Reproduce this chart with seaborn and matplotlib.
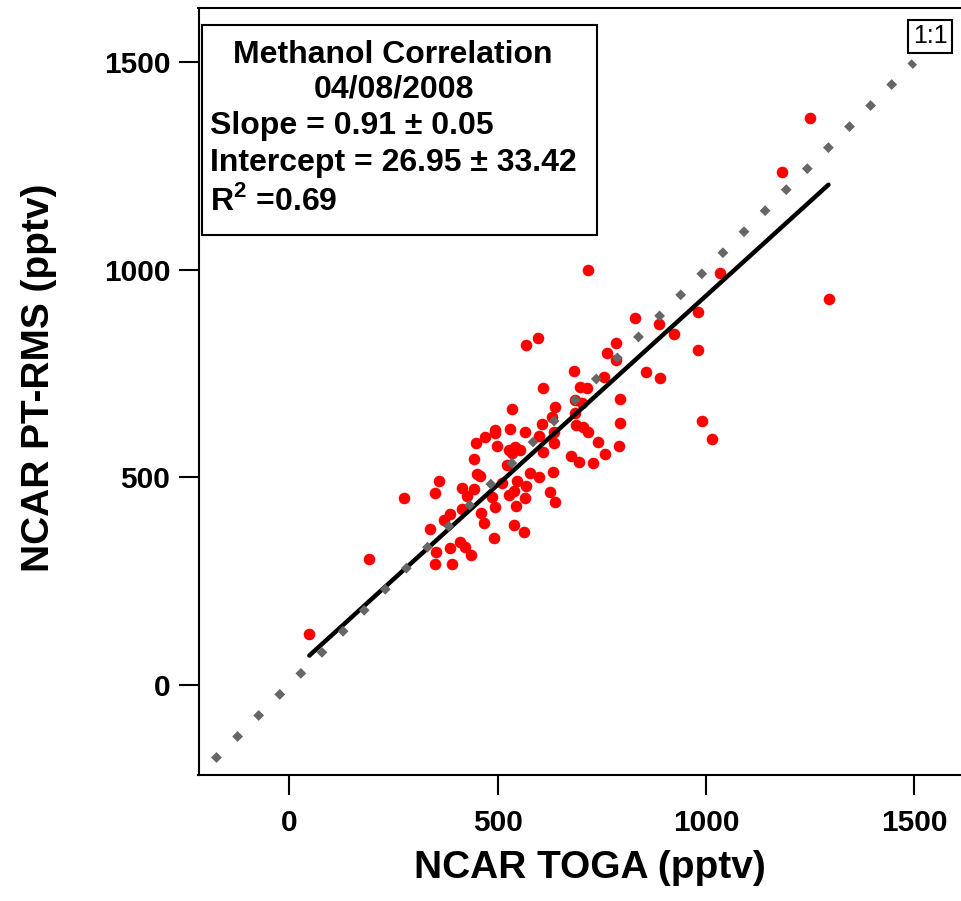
import matplotlib
matplotlib.use("Agg")
import matplotlib.pyplot as plt
from matplotlib.patches import Rectangle
import numpy as np
import pandas as pd
import seaborn as sns

# NCAR TOGA (x) vs NCAR PT-RMS (y), methanol, pptv
toga = [48, 191, 275, 350, 358, 372, 386, 338, 386, 351, 390, 350,
        534, 638, 494, 494, 530, 566, 470, 607, 598, 630,
        634, 634, 447, 499, 526, 542, 554, 534, 608, 444,
        522, 451, 458, 578, 599, 632, 547, 510, 567, 414,
        442, 427, 538, 528, 626, 487, 566, 638, 494, 543,
        414, 460, 466, 539, 563, 491, 410, 422, 436,
        596, 568, 609, 682, 717, 698, 715, 685, 703, 686,
        688, 704, 716, 675, 696, 728, 740, 758, 756, 762,
        784, 784, 794, 794, 791,
        1034, 830, 888, 923, 980, 980, 857, 890, 990, 1014,
        1250, 1183, 1294]
ptrms = [122, 302, 451, 462, 492, 397, 412, 376, 330, 321, 291, 290,
         664, 669, 614, 606, 616, 609, 597, 629, 600, 644,
         610, 582, 582, 576, 566, 574, 566, 558, 562, 544,
         530, 508, 503, 511, 500, 512, 491, 487, 478, 474,
         471, 455, 467, 458, 465, 453, 450, 441, 429, 431,
         423, 415, 391, 385, 367, 353, 345, 331, 312,
         836, 819, 716, 755, 999, 717, 715, 686, 678, 654,
         626, 621, 609, 551, 536, 534, 586, 556, 742, 799,
         824, 783, 689, 630, 576,
         991, 883, 869, 845, 899, 807, 754, 739, 636, 593,
         1366, 1234, 930]

SLOPE = 0.91
INTERCEPT = 26.95
TICKS = [0, 500, 1000, 1500]
STATS = ["Slope = 0.91 \u00b1 0.05", "Intercept = 26.95 \u00b1 33.42", "R$^{2}$ =0.69"]

sns.set_theme(style="ticks")
plt.rcParams["font.family"] = ["Liberation Sans", "DejaVu Sans"]
plt.rcParams["font.weight"] = "bold"
plt.rcParams["text.color"] = "black"
plt.rcParams["axes.labelcolor"] = "black"
plt.rcParams["mathtext.fontset"] = "custom"
plt.rcParams["mathtext.rm"] = "Liberation Sans:bold"
plt.rcParams["mathtext.bf"] = "Liberation Sans:bold"

df = pd.DataFrame({"toga": toga, "ptrms": ptrms})

W, H = 961, 901
fig = plt.figure(figsize=(W / 100, H / 100), dpi=100)
ax = fig.add_axes([198.5 / W, 1 - 775 / H, (W - 198.5) / W, (775 - 8) / H])

sns.scatterplot(data=df, x="toga", y="ptrms", ax=ax, color="#ff0000",
                s=70, linewidth=0, zorder=3)

fit_x = np.array([min(toga), max(toga)])
sns.lineplot(x=fit_x, y=SLOPE * fit_x + INTERCEPT, ax=ax, color="black",
             linewidth=3.2, zorder=4)

# 1:1 reference line
one = np.array([-232, 1500])
ax.plot(one, one, color="#666666", linewidth=5.5, linestyle=(0, (1.0, 2.9)),
        dash_capstyle="butt", zorder=5)

ax.set_xlim(-218, 1612)
ax.set_ylim(-217, 1630)
ax.set_xticks(TICKS)
ax.set_yticks(TICKS)
ax.tick_params(direction="out", length=14.4, width=1.5, labelsize=21.5,
               colors="black", labelcolor="black")
ax.tick_params(axis="x", pad=10)
ax.tick_params(axis="y", pad=6)
for lab in ax.get_xticklabels() + ax.get_yticklabels():
    lab.set_fontweight("bold")

for side in ["left", "bottom", "top"]:
    ax.spines[side].set_color("black")
    ax.spines[side].set_linewidth(1.5)
ax.spines["right"].set_visible(False)

ax.set_xlabel("NCAR TOGA (pptv)", fontsize=28, fontweight="bold", color="black")
ax.set_ylabel("NCAR PT-RMS (pptv)", fontsize=28, fontweight="bold", color="black")
ax.xaxis.set_label_coords(0.513, -0.098)
ax.yaxis.set_label_coords(-0.185, 0.518)

# stats box (figure pixel layout)
def fx(px):
    return px / W

def fy(py):
    return 1 - py / H

ax.add_patch(Rectangle((fx(202), fy(235)), fx(597) - fx(202), fy(25) - fy(235),
                       transform=fig.transFigure, facecolor="white", edgecolor="black",
                       linewidth=1.5, clip_on=False, zorder=10))
ax.text(fx(393), fy(63), "Methanol Correlation", transform=fig.transFigure,
        ha="center", va="baseline", fontsize=23, fontweight="bold", color="black", zorder=11)
ax.text(fx(394), fy(98), "04/08/2008", transform=fig.transFigure,
        ha="center", va="baseline", fontsize=23, fontweight="bold", color="black", zorder=11)
for txt, base in zip(STATS, [134, 171, 210]):
    ax.text(fx(210), fy(base), txt, transform=fig.transFigure,
            ha="left", va="baseline", fontsize=23, fontweight="bold", color="black", zorder=11)

ax.text(fx(930), fy(36), "1:1", transform=fig.transFigure, ha="center", va="center",
        fontsize=18, fontweight="normal", color="black", zorder=11,
        bbox=dict(boxstyle="square,pad=0.18", facecolor="white", edgecolor="black", linewidth=1.5))

fig.savefig("out.png", dpi=100)
